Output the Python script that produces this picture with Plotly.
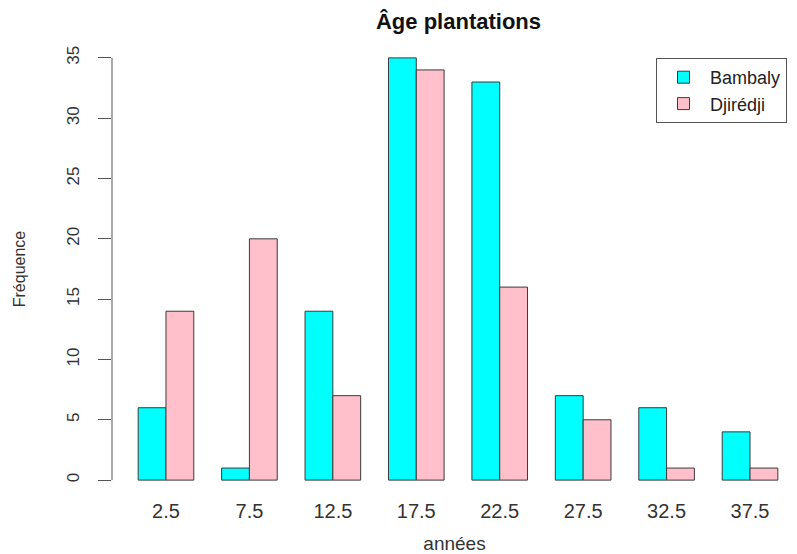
import plotly.graph_objects as go

categories = ["2.5", "7.5", "12.5", "17.5", "22.5", "27.5", "32.5", "37.5"]
bambaly = [6, 1, 14, 35, 33, 7, 6, 4]
djiredji = [14, 20, 7, 34, 16, 5, 1, 1]
series_names = ["Bambaly", "Djirédji"]
y_ticks = [0, 5, 10, 15, 20, 25, 30, 35]

FONT = "Liberation Sans, Arial, Helvetica, sans-serif"
EDGE = "#3a3a3a"
AXIS = "#555555"

# page has an 8px body margin: figure is sized/placed to compensate
W, H = 789, 546
L, T, B = 104, 33, 57

fig = go.Figure()
fig.add_trace(go.Bar(x=categories, y=bambaly, name=series_names[0],
                     marker=dict(color="#00FFFF", line=dict(color=EDGE, width=1))))
fig.add_trace(go.Bar(x=categories, y=djiredji, name=series_names[1],
                     marker=dict(color="#FFC0CB", line=dict(color=EDGE, width=1))))

PW = W - L
PH = H - T - B

fig.update_layout(
    width=W, height=H,
    margin=dict(l=L, r=0, t=T, b=B),
    paper_bgcolor="white", plot_bgcolor="white",
    barmode="group", bargap=1/3, bargroupgap=0,
    font=dict(family=FONT, color="#222222"),
    title=dict(text="<b>Âge plantations</b>", x=(450.5) / W, xanchor="center",
               y=1 - 13 / H, yanchor="middle",
               font=dict(size=22, family=FONT, color="#111111")),
    showlegend=True,
    legend=dict(x=(648 - L) / PW, xanchor="left", y=1 - (50 - T) / PH, yanchor="top",
                bordercolor=AXIS, borderwidth=1, bgcolor="white",
                font=dict(size=18, family=FONT, color="#222222"),
                tracegroupgap=0, itemwidth=43),
)

fig.update_xaxes(
    range=[-0.647, 7.563], showline=False, showgrid=False, zeroline=False,
    ticks="", tickfont=dict(size=20, family=FONT, color="#333333"),
    ticklabelstandoff=0,
    title=dict(text="années", font=dict(size=19, family=FONT, color="#333333"), standoff=15),
    automargin=False,
)
fig.update_yaxes(
    range=[-1.4, 36.4], showline=False, showgrid=False, zeroline=False,
    tickmode="array", tickvals=y_ticks, ticktext=[str(v) for v in y_ticks],
    ticks="outside", ticklen=13, tickcolor=AXIS, tickwidth=1,
    tickangle=-90, tickfont=dict(size=17, family=FONT, color="#333333"),
    ticklabelstandoff=12,
    title=dict(text="Fréquence", font=dict(size=16, family=FONT, color="#333333"), standoff=34),
    automargin=False,
)
fig.add_shape(type="line", xref="paper", yref="y", x0=0, x1=0, y0=y_ticks[0], y1=y_ticks[-1],
              line=dict(color=AXIS, width=1))

fig.write_html("out.html")
